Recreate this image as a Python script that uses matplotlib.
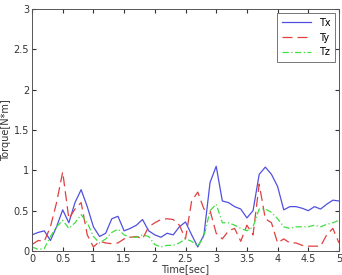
import matplotlib
matplotlib.use('Agg')
from matplotlib import pyplot as plt
import numpy as np
#
# data, 0.1 s steps
# ----------------------------------------
#
t = np.round(np.arange(0, 5.01, 0.1), 1)
tx = [0.20, 0.23, 0.25, 0.13, 0.30, 0.51, 0.35, 0.60, 0.76, 0.55,
      0.30, 0.18, 0.22, 0.40, 0.43, 0.25, 0.28, 0.32, 0.39, 0.25,
      0.20, 0.17, 0.22, 0.20, 0.30, 0.36, 0.20, 0.05, 0.20, 0.85,
      1.05, 0.62, 0.60, 0.55, 0.52, 0.41, 0.50, 0.95, 1.04, 0.95,
      0.80, 0.51, 0.55, 0.55, 0.53, 0.50, 0.55, 0.52, 0.58, 0.63,
      0.62]
ty = [0.08, 0.13, 0.12, 0.30, 0.60, 0.98, 0.40, 0.52, 0.60, 0.20,
      0.05, 0.12, 0.10, 0.09, 0.10, 0.15, 0.17, 0.18, 0.15, 0.30,
      0.35, 0.39, 0.40, 0.39, 0.32, 0.15, 0.62, 0.73, 0.52, 0.50,
      0.22, 0.15, 0.25, 0.28, 0.12, 0.32, 0.20, 0.83, 0.40, 0.35,
      0.10, 0.15, 0.10, 0.10, 0.07, 0.06, 0.06, 0.06, 0.20, 0.28,
      0.10]
tz = [0.05, 0.02, 0.03, 0.18, 0.30, 0.38, 0.28, 0.35, 0.45, 0.35,
      0.18, 0.10, 0.15, 0.23, 0.27, 0.20, 0.17, 0.17, 0.20, 0.18,
      0.08, 0.05, 0.07, 0.07, 0.10, 0.15, 0.12, 0.06, 0.18, 0.50,
      0.58, 0.35, 0.35, 0.32, 0.28, 0.25, 0.30, 0.52, 0.52, 0.48,
      0.40, 0.30, 0.28, 0.30, 0.30, 0.30, 0.32, 0.30, 0.33, 0.35,
      0.38]
#
# figure
# ------
#
fig = plt.figure(figsize=(3.42, 2.75), dpi=100)
ax = fig.add_axes([32/342, 24/275, 307/342, 242/275])
ax.plot(t, tx, color='#5050e0', lw=0.9, label='Tx')
ax.plot(t, ty, color='#e04040', lw=0.9, ls=(0, (8, 4)), label='Ty')
ax.plot(t, tz, color='#40e040', lw=0.9, ls=(0, (5, 2, 1, 2)), label='Tz')
ax.set_xlim(0, 5)
ax.set_ylim(0, 3)
ax.set_xticks(np.arange(0, 5.01, 0.5))
ax.set_xticklabels(['0', '0.5', '1', '1.5', '2', '2.5', '3', '3.5', '4', '4.5', '5'])
ax.set_yticks(np.arange(0, 3.01, 0.5))
ax.set_yticklabels(['0', '0.5', '1', '1.5', '2', '2.5', '3'])
ax.tick_params(direction='in', top=True, right=True, labelsize=7, length=3, pad=2, colors='#333333')
for s in ax.spines.values():
    s.set_color('#555555')
    s.set_linewidth(0.7)
ax.set_xlabel('Time[sec]', fontsize=7, labelpad=0, color='#333333')
ax.set_ylabel('Torque[N*m]', fontsize=7, labelpad=2, color='#333333')
leg = ax.legend(loc='upper right', fontsize=7, fancybox=False, edgecolor='#555555',
                handlelength=3.0, borderaxespad=0.4, labelspacing=0.5, borderpad=0.5)
leg.get_frame().set_linewidth(0.7)
fig.savefig('out.png', dpi=100)
